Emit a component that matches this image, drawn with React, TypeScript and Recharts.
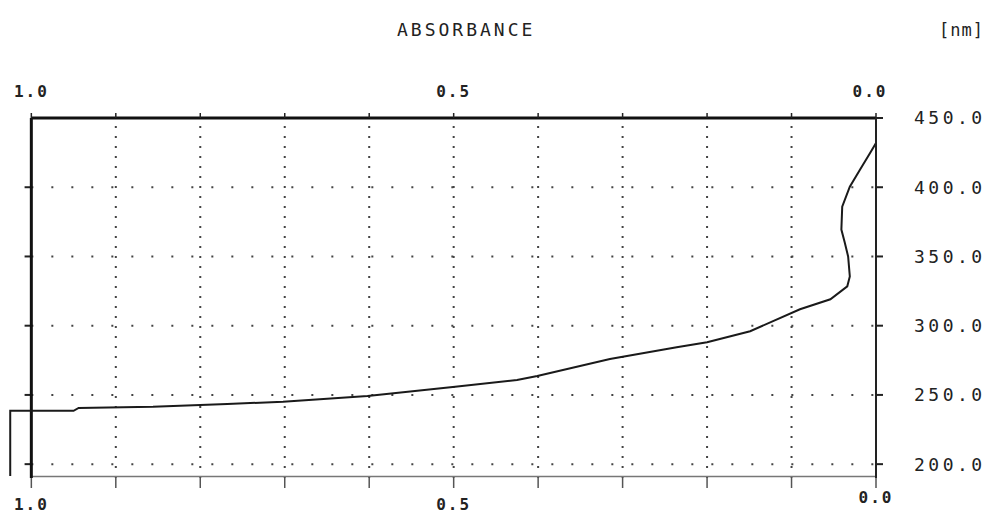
import React from 'react';
import {
  LineChart,
  Line,
  XAxis,
  YAxis,
  ReferenceLine,
} from 'recharts';

// absorbance (x, reversed) vs wavelength in nm (y)
const absorbance = [1.025, 1.025, 0.95, 0.944, 0.856, 0.768, 0.702, 0.602, 0.501, 0.425, 0.401, 0.315, 0.236, 0.2, 0.149, 0.09, 0.054, 0.034, 0.031, 0.033, 0.037, 0.041, 0.04, 0.031, 0.019, 0.007, 0.0];
const wavelength = [191.5, 238.5, 238.5, 240.6, 241.4, 243.5, 245.0, 249.3, 255.8, 260.8, 263.7, 275.9, 284.5, 288.1, 296.0, 311.9, 319.1, 328.4, 335.6, 350.0, 360.1, 369.4, 386.0, 400.4, 412.6, 424.8, 432.0];

const absTicks = [0, 0.1, 0.2, 0.3, 0.4, 0.5, 0.6, 0.7, 0.8, 0.9, 1.0];
const absLabels = [1.0, 0.5, 0.0];
const nmTicks = [200, 250, 300, 350, 400, 450];
const gridNm = [200, 250, 300, 350, 400];
const gridAbs = [0.1, 0.2, 0.3, 0.4, 0.5, 0.6, 0.7, 0.8, 0.9];

const data = absorbance.map((a, i) => ({ abs: a, nm: wavelength[i] }));

const FONT = '"DejaVu Sans Mono", monospace';
const INK = '#222';

const fmtAbs = (v: number) => (absLabels.some((l) => Math.abs(l - v) < 1e-6) ? v.toFixed(1) : '');

// bottom tick label - 0.0 sits a little higher on the original
const BottomTick = (props: any) => {
  const { x, y, payload } = props;
  const label = fmtAbs(payload.value);
  if (!label) return null;
  const up = payload.value === 0 ? -7 : 0;
  return (
    <text x={x} y={y + 20 + up} textAnchor="middle" fill={INK} fontFamily={FONT} fontSize={16} fontWeight="bold" letterSpacing={2}>
      {label}
    </text>
  );
};

const TopTick = (props: any) => {
  const { x, y, payload } = props;
  const label = fmtAbs(payload.value);
  if (!label) return null;
  const shift = payload.value === 0 ? -6 : 0;
  return (
    <text x={x + shift} y={y} textAnchor="middle" fill={INK} fontFamily={FONT} fontSize={16} fontWeight="bold" letterSpacing={2}>
      {label}
    </text>
  );
};

export default function App() {
  return (
    <div style={{ position: 'absolute', left: 0, top: 0, width: 991, height: 515, background: '#fff' }}>
      <div
        style={{
          position: 'absolute',
          left: 397,
          top: 19,
          fontFamily: FONT,
          fontSize: 18,
          letterSpacing: 3,
          color: INK,
        }}
      >
        ABSORBANCE
      </div>
      <div
        style={{
          position: 'absolute',
          left: 939,
          top: 20,
          fontFamily: FONT,
          fontSize: 17,
          letterSpacing: 1,
          color: INK,
        }}
      >
        [nm]
      </div>
      <LineChart
        width={991}
        height={515}
        data={data}
        margin={{ top: 88, right: 15, left: 6, bottom: 7 }}
      >
        <XAxis
          dataKey="abs"
          type="number"
          domain={[0, 1.03]}
          reversed
          ticks={absTicks}
          interval={0}
          allowDataOverflow
          axisLine={false}
          tickLine={{ stroke: '#555', strokeWidth: 1.5 }}
          tickSize={10}
          tick={<BottomTick />}
          height={30}
        />
        <XAxis
          xAxisId="top"
          orientation="top"
          dataKey="abs"
          type="number"
          domain={[0, 1.03]}
          reversed
          ticks={absTicks}
          interval={0}
          allowDataOverflow
          axisLine={false}
          tickLine={{ stroke: INK, strokeWidth: 1.5 }}
          tickSize={5}
          tickMargin={16}
          tick={<TopTick />}
          height={30}
        />
        <YAxis
          orientation="right"
          type="number"
          domain={[190, 450]}
          ticks={nmTicks}
          interval={0}
          allowDataOverflow
          axisLine={{ stroke: INK, strokeWidth: 2 }}
          tickLine={{ stroke: INK, strokeWidth: 2 }}
          tickSize={7}
          tickMargin={31}
          tick={{ fill: INK, fontFamily: FONT, fontSize: 18, letterSpacing: 3.5 }}
          tickFormatter={(v: number) => v.toFixed(1)}
          width={100}
        />

        {gridAbs.map((a) => (
          <ReferenceLine key={'v' + a} x={a} stroke="#444" strokeWidth={2} strokeDasharray="2 8" />
        ))}
        {gridNm.map((n) => (
          <ReferenceLine
            key={'h' + n}
            segment={[{ x: 1.0, y: n }, { x: 0, y: n }]}
            stroke="#444"
            strokeWidth={2}
            strokeDasharray="2 18"
          />
        ))}
        {gridNm.map((n) => (
          <ReferenceLine
            key={'t' + n}
            segment={[{ x: 1.008, y: n }, { x: 1.0, y: n }]}
            stroke={INK}
            strokeWidth={2}
          />
        ))}

        {/* frame */}
        <ReferenceLine segment={[{ x: 1.0, y: 450 }, { x: 0, y: 450 }]} stroke="#111" strokeWidth={3} />
        <ReferenceLine segment={[{ x: 1.0, y: 191 }, { x: 0, y: 191 }]} stroke="#777" strokeWidth={1.5} />
        <ReferenceLine segment={[{ x: 1.0, y: 190 }, { x: 1.0, y: 450 }]} stroke="#111" strokeWidth={3} />

        <Line
          type="linear"
          dataKey="nm"
          stroke="#1a1a1a"
          strokeWidth={2}
          dot={false}
          isAnimationActive={false}
        />
      </LineChart>
    </div>
  );
}
